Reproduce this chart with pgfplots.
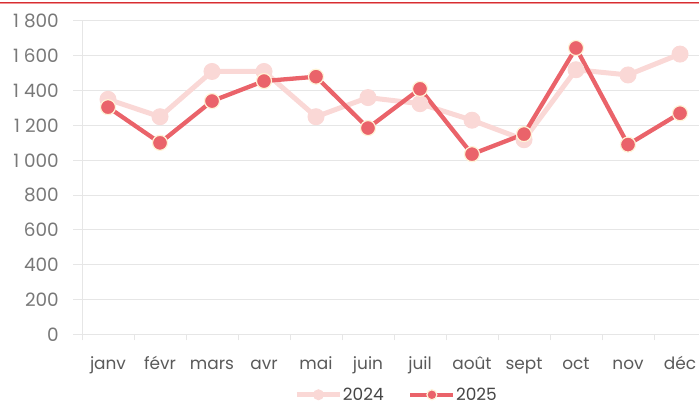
\documentclass[border=0pt]{standalone}
\usepackage{fontspec}
\setmainfont{Poppins}
\usepackage{pgfplots}
\pgfplotsset{compat=1.18}
\definecolor{dark}{RGB}{234,99,106}
\definecolor{light}{RGB}{250,216,214}
\definecolor{cream}{RGB}{255,243,214}
\definecolor{gridc}{RGB}{230,230,230}
\definecolor{ticklab}{RGB}{120,120,120}
\definecolor{xlab}{RGB}{90,90,90}
\definecolor{legtext}{RGB}{70,70,70}
\definecolor{topred}{RGB}{214,45,50}
\definecolor{toppink}{RGB}{240,150,150}
\begin{document}
\begin{tikzpicture}[x=1bp,y=1bp]
\useasboundingbox (0,0) rectangle (699,405);
\draw[topred, line width=1bp] (0,402.3) -- (699,402.3);
\draw[toppink, line width=1bp] (0,401.2) -- (699,401.2);
\begin{axis}[
  at={(82bp,70.7bp)}, anchor=south west,
  scale only axis, width=624bp, height=313.3bp,
  xmin=-0.5, xmax=11.5, ymin=0, ymax=1800,
  axis line style={draw=none},
  ytick={0,200,...,1800},
  xtick={0,...,11},
  xticklabels={janv,févr,mars,avr,mai,juin,juil,août,sept,oct,nov,déc},
  minor xtick={-0.5,0.5,...,11.5},
  tick align=outside, xtick pos=bottom, ytick pos=left,
  major tick length=9bp, minor tick length=6bp,
  xtick style={draw=none},
  minor x tick style={draw=gridc, line width=1bp},
  ytick style={draw=gridc, line width=1bp},
  ymajorgrids, major grid style={gridc, line width=1bp},
  extra x ticks={-0.5}, extra x tick labels={},
  extra x tick style={grid=major, major grid style={gridc, line width=1bp}, tick style={draw=none}},
  /pgf/number format/assume math mode=true,
  /pgf/number format/1000 sep={\ },
  yticklabel style={font=\fontsize{18.5}{22}\selectfont, text=ticklab, anchor=east, inner sep=0pt, xshift=-14bp},
  xticklabel style={font=\fontsize{17}{20}\selectfont, text=xlab, anchor=base, inner sep=0pt, yshift=-26bp},
  clip=false,
  legend columns=2,
  legend style={at={(0.503,-0.193)}, anchor=center, draw=none, fill=none,
    font=\fontsize{17}{20}\selectfont, text=legtext,
    /tikz/every even column/.append style={column sep=24bp},
    nodes={inner sep=0.5bp}},
  legend image code/.code={\draw[#1, mark repeat=2, mark phase=2, mark size=5bp] plot coordinates {(0bp,0bp) (21.5bp,0bp) (43bp,0bp)};},
]
\addplot[light, line width=5bp, mark=*, mark size=8bp, mark options={fill=light, draw=light, line width=1bp}]
  coordinates {(0,1350) (1,1250) (2,1510) (3,1510) (4,1250) (5,1360) (6,1325) (7,1230) (8,1118) (9,1520) (10,1490) (11,1610)};
\addlegendentry{2024}
\addplot[dark, line width=4.3bp, mark=*, mark size=7.5bp, mark options={fill=dark, draw=cream, line width=1.2bp}]
  coordinates {(0,1305) (1,1100) (2,1340) (3,1455) (4,1480) (5,1185) (6,1410) (7,1035) (8,1150) (9,1645) (10,1090) (11,1270)};
\addlegendentry{2025}
\end{axis}
\end{tikzpicture}
\end{document}
